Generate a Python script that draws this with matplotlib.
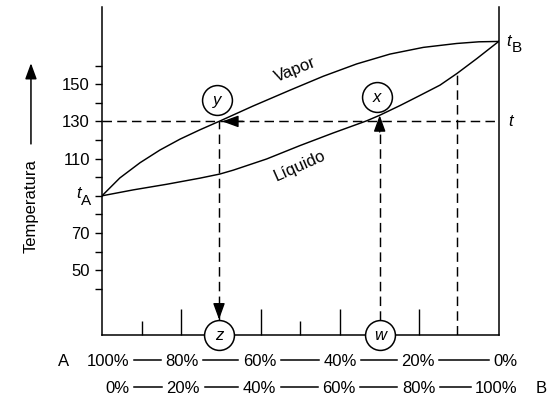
import matplotlib
matplotlib.use('Agg')
import matplotlib.pyplot as plt
from matplotlib.lines import Line2D

plt.rcParams['font.family'] = ['Liberation Sans', 'DejaVu Sans']

# composition (% B) and temperature
vapor_x = [0, 4.5, 9.6, 14.6, 19.7, 24.7, 29.5, 38, 47.4, 55.8, 64.2, 72.6, 81, 89.4, 95, 100]
vapor_t = [90, 99.6, 107.8, 114.6, 120.5, 125.5, 130, 138.2, 146.8, 154.3, 160.9, 166.2, 169.8, 171.9, 172.8, 173]
liquid_x = [0, 7.9, 16.3, 24.7, 29.7, 33.1, 41.5, 49.9, 58.3, 66.7, 70, 75.1, 80, 85.2, 89.5, 94.5, 100]
liquid_t = [90, 93.2, 96.2, 99.5, 101.7, 103.8, 109.8, 117, 123.8, 130.3, 133.3, 138.5, 143.8, 149.5, 155.8, 163.8, 173]

t_line = 130
y_comp = 29.5     # vapour composition at t
w_comp = 70       # liquid composition at t
x_extra = 89.5    # extra dashed guide
t_tip = 133.3     # liquid temperature at w_comp

ytick_vals = [50, 70, 90, 110, 130, 150]
ytick_labels = ['50', '70', '', '110', '130', '150']
yminor_vals = [40, 60, 80, 100, 120, 140, 160]
xmajor = [20, 40, 60, 80]
xminor = [10, 50]

row_a = ['100%', '80%', '60%', '40%', '20%', '0%']
row_b = ['0%', '20%', '40%', '60%', '80%', '100%']
comp_b = [0, 20, 40, 60, 80, 100]
nudge_a = [1.6, 0.2, -0.3, 0, -0.3, 1.7]
nudge_b = [3.9, 0.5, -0.3, -0.3, -0.2, -0.6]

fig = plt.figure(figsize=(5.53, 3.99), dpi=100)
ax = fig.add_axes([0.1844, 0.1596, 0.7174, 0.8228])
ax.set_xlim(0, 100)
ax.set_ylim(15, 191.5)

dash = (0, (6.5, 3.6))
ax.plot(vapor_x, vapor_t, color='black', lw=1.05, zorder=3)
ax.plot(liquid_x, liquid_t, color='black', lw=1.05, zorder=3)

ax.plot([0, 100], [t_line, t_line], color='black', lw=1.05, linestyle=dash, zorder=2)
ax.plot([y_comp, y_comp], [15, t_line], color='black', lw=1.05, linestyle=dash, zorder=2)
ax.plot([w_comp, w_comp], [15, t_tip], color='black', lw=1.05, linestyle=dash, zorder=2)
ax.plot([x_extra, x_extra], [15, 155.8], color='black', lw=1.05, linestyle=dash, zorder=2)

head = dict(arrowstyle='-|>,head_length=0.55,head_width=0.2', color='black', lw=1.0,
            shrinkA=0, shrinkB=0, mutation_scale=18)
ax.annotate('', xy=(y_comp + 0.8, t_line), xytext=(y_comp + 6, t_line), arrowprops=head, zorder=4)
ax.annotate('', xy=(y_comp, 23.5), xytext=(y_comp, 32), arrowprops=head, zorder=4)
ax.annotate('', xy=(w_comp, t_tip), xytext=(w_comp, t_tip - 9), arrowprops=head, zorder=4)

# circled letters
circles = [('y', 29, 141.5), ('x', 69.2, 143), ('z', y_comp, 15), ('w', w_comp, 15)]
for lbl, cx, cy in circles:
    ax.plot(cx, cy, marker='o', ms=21.5, mfc='white', mec='black', mew=1.1,
            clip_on=False, zorder=6)
    ax.text(cx, cy, lbl, ha='center', va='center', fontsize=12, style='italic', zorder=7)

ax.text(48.7, 157.6, 'Vapor', fontsize=12, rotation=22, ha='center', va='center')
ax.text(49.9, 105.8, 'Líquido', fontsize=12, rotation=24, ha='center', va='center')
ax.text(102.3, t_line, 't', fontsize=12, style='italic', ha='left', va='center')

# t_A and t_B with large subscripts
ax.text(-5.4, 88.6, 't', fontsize=12, style='italic', ha='right', va='baseline', clip_on=False)
ax.text(-5.4, 85.0, 'A', fontsize=11, ha='left', va='baseline', clip_on=False)
ax.text(102.0, 170.6, 't', fontsize=12, style='italic', ha='left', va='baseline')
ax.text(103.2, 167.1, 'B', fontsize=11, ha='left', va='baseline')

for s in ['left', 'right', 'bottom']:
    ax.spines[s].set_linewidth(1.1)
ax.spines['top'].set_visible(False)

ax.set_yticks(ytick_vals)
ax.set_yticklabels(ytick_labels, fontsize=12)
ax.set_yticks(yminor_vals, minor=True)
ax.tick_params(axis='y', which='both', direction='out', length=5.2, width=1.0, pad=3.5)

ax.set_xticks(xmajor)
ax.set_xticklabels([])
ax.set_xticks(xminor, minor=True)
ax.tick_params(axis='x', which='major', direction='in', length=18.7, width=1.0)
ax.tick_params(axis='x', which='minor', direction='in', length=10, width=1.0)

# y label with arrow
ax.text(-0.179, 0.395, 'Temperatura', transform=ax.transAxes, rotation=90,
        ha='center', va='center', fontsize=12)
ax.annotate('', xy=(-0.179, 0.829), xytext=(-0.179, 0.583), xycoords='axes fraction',
            textcoords='axes fraction',
            arrowprops=dict(arrowstyle='-|>,head_length=0.6,head_width=0.22', color='black',
                            lw=1.1, shrinkA=0, shrinkB=0, mutation_scale=16))

# composition rows under the axis
texts_a = []
texts_b = []
for lbl, c, n in zip(row_a, comp_b, nudge_a):
    texts_a.append(ax.annotate(lbl, xy=(c + n, 0), xycoords=('data', 'axes fraction'),
                               xytext=(0, -22.1), textcoords='offset points',
                               ha='center', va='baseline', fontsize=12))
for lbl, c, n in zip(row_b, comp_b, nudge_b):
    texts_b.append(ax.annotate(lbl, xy=(c + n, 0), xycoords=('data', 'axes fraction'),
                               xytext=(0, -41.8), textcoords='offset points',
                               ha='center', va='baseline', fontsize=12))
ax.annotate('A', xy=(-9.8, 0), xycoords=('data', 'axes fraction'), xytext=(0, -22.1),
            textcoords='offset points', ha='center', va='baseline', fontsize=12)
ax.annotate('B', xy=(110.6, 0), xycoords=('data', 'axes fraction'), xytext=(0, -41.8),
            textcoords='offset points', ha='center', va='baseline', fontsize=12)

fig.canvas.draw()
renderer = fig.canvas.get_renderer()
base = ax.transAxes.transform((0, 0))[1]
inv = fig.transFigure.inverted()
for texts, drop in [(texts_a, 17.8), (texts_b, 37.4)]:
    yd = base - drop * fig.dpi / 72.0
    for t1, t2 in zip(texts[:-1], texts[1:]):
        b1 = t1.get_window_extent(renderer)
        b2 = t2.get_window_extent(renderer)
        p1 = inv.transform((b1.x1 + 4.5, yd))
        p2 = inv.transform((b2.x0 - 4.5, yd))
        fig.add_artist(Line2D([p1[0], p2[0]], [p1[1], p2[1]], color='black', lw=1.1,
                              transform=fig.transFigure))

fig.savefig('out.png', dpi=100)
